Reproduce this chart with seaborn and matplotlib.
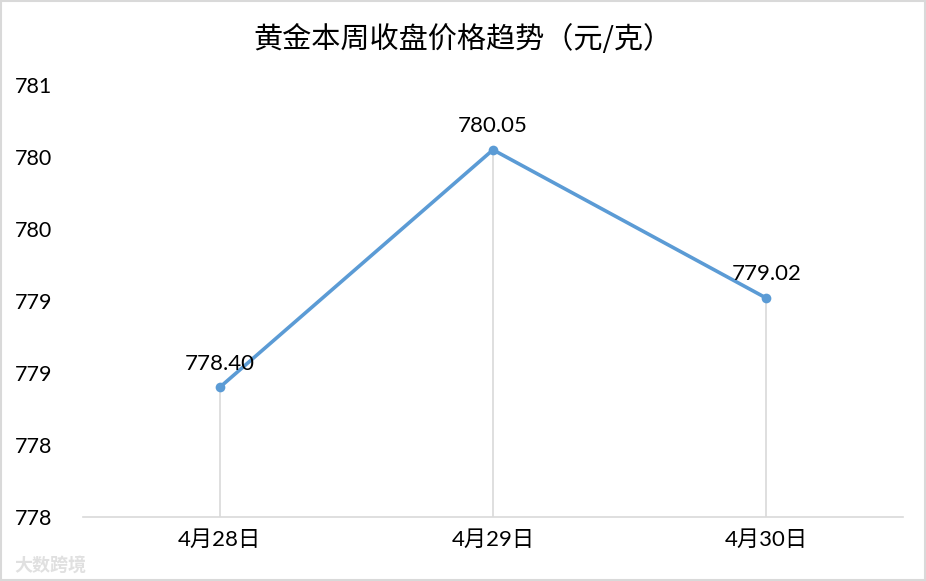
import matplotlib
matplotlib.use("Agg")
import matplotlib.pyplot as plt
import seaborn as sns
import pandas as pd

categories = ["4月28日", "4月29日", "4月30日"]
prices = [778.40, 780.05, 779.02]
price_labels = ["778.40", "780.05", "779.02"]
y_ticks = [777.5, 778.0, 778.5, 779.0, 779.5, 780.0, 780.5]
y_tick_labels = ["778", "778", "779", "779", "780", "780", "781"]
title = "黄金本周收盘价格趋势（元/克）"

sns.set_theme(style="white")
plt.rcParams['font.family'] = ['Lato', 'Noto Sans CJK SC', 'DejaVu Sans']

df = pd.DataFrame({"pos": range(len(categories)), "price": prices, "cat": categories})

fig = plt.figure(figsize=(9.26, 5.81), dpi=100)
ax = fig.add_axes([83/926, 1 - 517/581, (903-83)/926, (517-85)/581])

ax.vlines(df["pos"], y_ticks[0], df["price"], color="#D9D9D9", linewidth=1.2, zorder=1)
sns.lineplot(data=df, x="pos", y="price", ax=ax, color="#5B9BD5", linewidth=2.6,
             marker="o", markersize=7, markeredgewidth=0, zorder=3)

for x, y, lab in zip(df["pos"], df["price"], price_labels):
    ax.annotate(lab, (x, y), xytext=(0, 10), textcoords="offset points",
                ha="center", va="bottom", fontsize=16, color="#000000")

ax.set_xlim(-0.5, len(categories) - 0.5)
ax.set_ylim(y_ticks[0], y_ticks[-1])
ax.set_xticks(list(df["pos"]))
ax.set_xticklabels(categories, fontsize=16, color="#000000")
ax.set_yticks(y_ticks)
ax.set_yticklabels(y_tick_labels, fontsize=15.5, color="#000000")
ax.tick_params(axis="y", length=0, pad=22)
ax.tick_params(axis="x", length=0, pad=9)
ax.set_xlabel("")
ax.set_ylabel("")
for s in ["top", "right", "left"]:
    ax.spines[s].set_visible(False)
ax.spines["bottom"].set_color("#D9D9D9")
ax.spines["bottom"].set_linewidth(1.2)
ax.grid(False)

fig.text(0.5, 1 - 40/581, title, ha="center", va="center", fontsize=21,
         family=['Noto Sans CJK SC', 'DejaVu Sans'], color="#000000")
fig.text(14/926, 1 - 565/581, "大数跨境", ha="left", va="center", fontsize=13,
         family=['Noto Sans CJK SC', 'DejaVu Sans'], color="#E0E0E0", fontweight="bold")

border = plt.Rectangle((0.001, 0.001), 0.998, 0.997, transform=fig.transFigure,
                       fill=False, edgecolor="#D9D9D9", linewidth=1.5)
fig.patches.append(border)

fig.savefig("out.png", dpi=100)
